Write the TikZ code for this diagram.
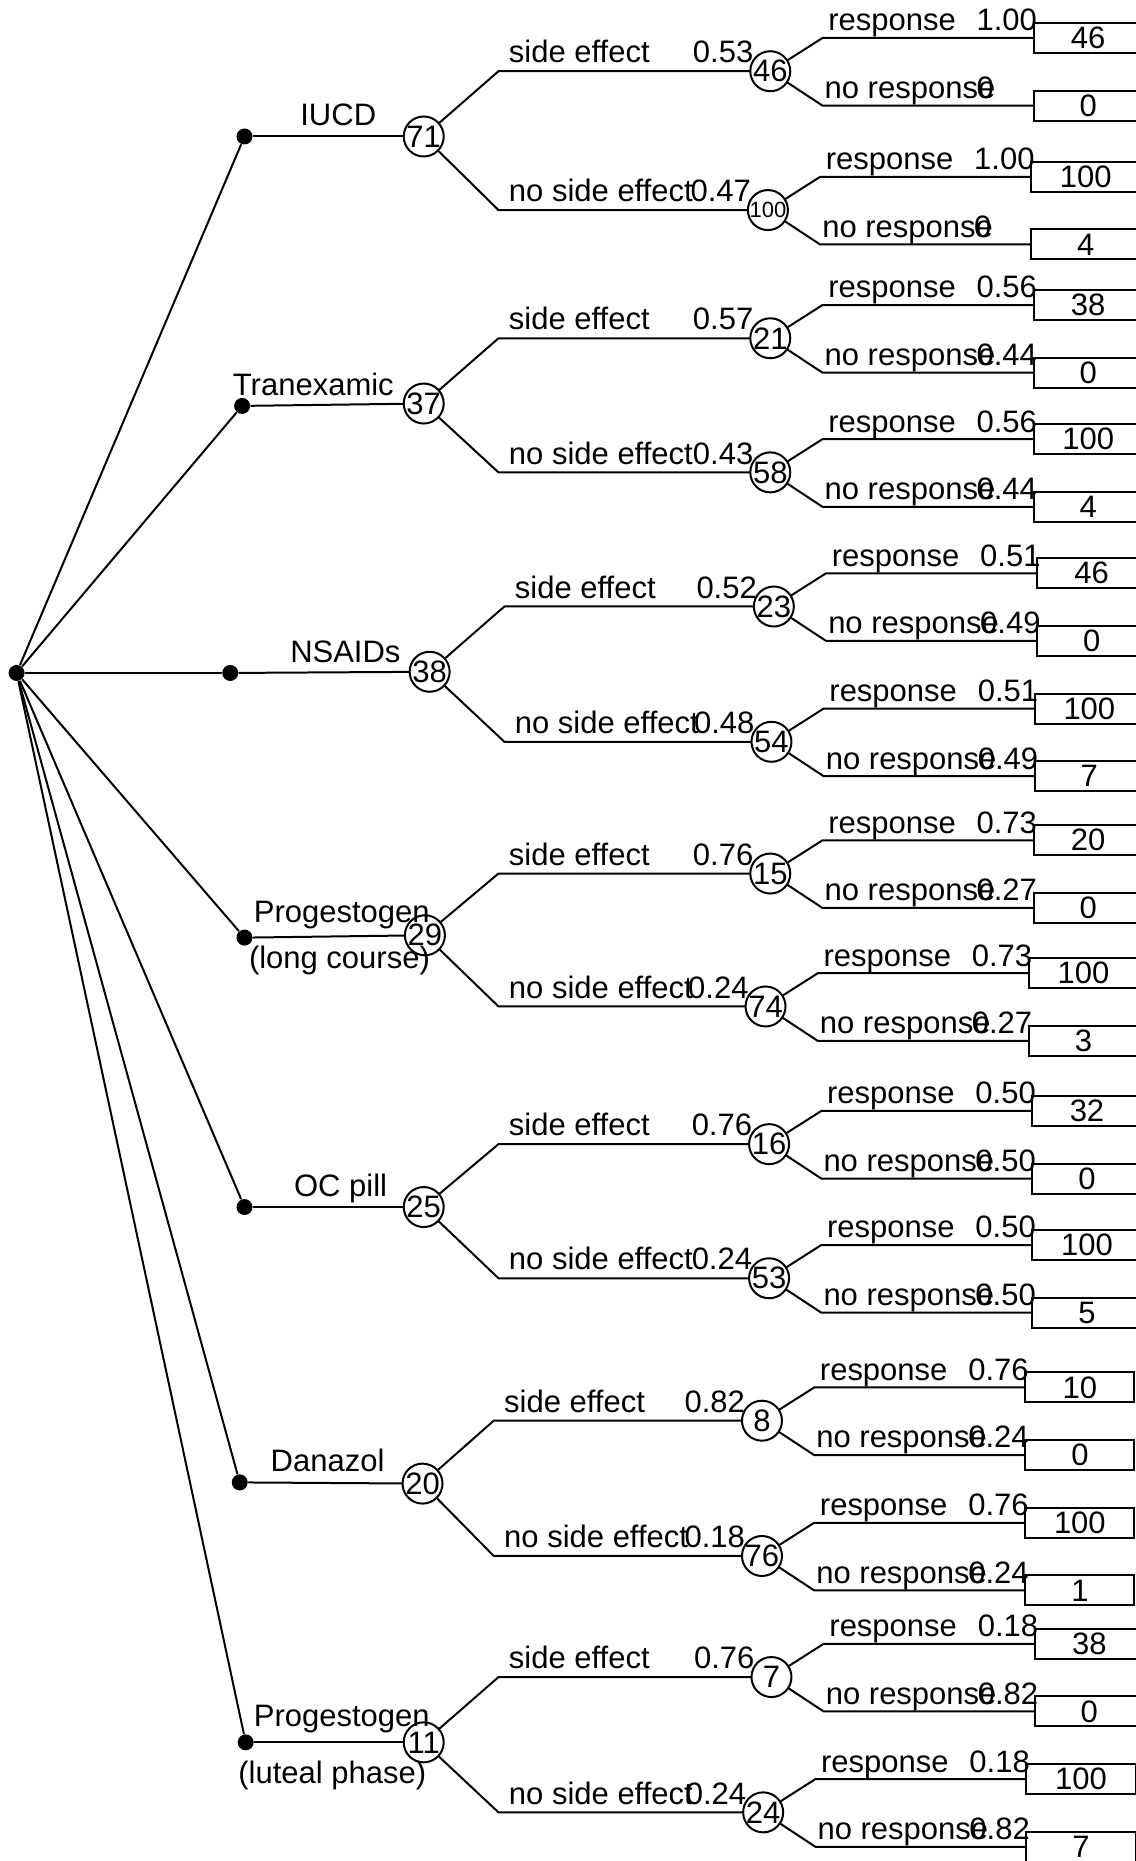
\documentclass[tikz,border=0pt]{standalone}
\usepackage{fontspec}
\setmainfont{Liberation Sans}
\usepackage{tikz}

% chance node with its two outcome branches
\newcommand{\leaves}[8]{%
  \node[chance] (#1) at (#2,#3) {#4};
  \node[outbox] (#1r) at (#2+221,#3-28) {#7};
  \node[outbox] (#1n) at (#2+221,#3+29) {#8};
  \coordinate (#1ru) at (#2+44,#3-28);
  \coordinate (#1nd) at (#2+44,#3+29);
  \draw (#1) -- (#1ru) -- (#1r.west);
  \draw (#1) -- (#1nd) -- (#1n.west);
  \node[lbl] at (#2+48,#3-34) {response};
  \node[lbl] at (#2+173,#3-34) {#5};
  \node[lbl] at (#2+45,#3+23) {no response};
  \node[lbl] at (#2+173,#3+23) {#6};
}
% side effect arm from a treatment node
\newcommand{\arm}[6]{%
  \coordinate (#2k) at (#3,#4);
  \draw (#1) -- (#2k) -- (#2);
  \node[lbl] at (#3+8,#4-7) {#5};
  \path (#2.center) ++(-66,-7) node[lbl] {#6};
}

\begin{document}
\begin{tikzpicture}[x=0.5935pt,y=-0.5935pt,line width=1pt,line cap=round,
  font=\fontsize{15.5}{18}\selectfont,
  chance/.style={circle,draw,minimum size=20pt,inner sep=-3pt},
  choice/.style={circle,fill,inner sep=0pt,minimum size=8pt},
  outbox/.style={rectangle,draw,anchor=west,minimum width=54.6pt,minimum height=15pt,inner sep=0pt},
  lbl/.style={anchor=base west,inner sep=0pt},
  tlbl/.style={anchor=base,inner sep=0pt}]
\useasboundingbox (0,0) rectangle (957,1568);
\clip (0,0) rectangle (957,1568);
\node[choice] (root) at (14,567) {};
% IUCD
\node[choice] (iucd) at (206,115) {};
\node[chance] (iucd0) at (357,115) {71};
\draw (iucd) -- (iucd0);
\node[tlbl] at (285,106) {IUCD};
\leaves{iucdS}{649}{60}{46}{1.00}{0}{46}{0}
\leaves{iucdN}{647}{177}{\fontsize{11}{12}\selectfont 100}{1.00}{0}{100}{4}
\arm{iucd0}{iucdS}{420}{60}{side effect}{0.53}
\arm{iucd0}{iucdN}{420}{177}{no side effect}{0.47}
% Tranexamic
\node[choice] (tran) at (204,342) {};
\node[chance] (tran0) at (357,340) {37};
\draw (tran) -- (tran0);
\node[tlbl] at (264,333) {Tranexamic};
\leaves{tranS}{649}{285}{21}{0.56}{0.44}{38}{0}
\leaves{tranN}{649}{398}{58}{0.56}{0.44}{100}{4}
\arm{tran0}{tranS}{420}{285}{side effect}{0.57}
\arm{tran0}{tranN}{420}{398}{no side effect}{0.43}
% NSAIDs
\node[choice] (nsaid) at (194,567) {};
\node[chance] (nsaid0) at (362,566) {38};
\draw (nsaid) -- (nsaid0);
\node[tlbl] at (291,558) {NSAIDs};
\leaves{nsaidS}{652}{511}{23}{0.51}{0.49}{46}{0}
\leaves{nsaidN}{650}{625}{54}{0.51}{0.49}{100}{7}
\arm{nsaid0}{nsaidS}{425}{511}{side effect}{0.52}
\arm{nsaid0}{nsaidN}{425}{625}{no side effect}{0.48}
% Progestogen (long course)
\node[choice] (plong) at (206,790) {};
\node[chance] (plong0) at (358,788) {29};
\draw (plong) -- (plong0);
\node[tlbl] at (288,777) {Progestogen};
\node[tlbl] at (286,816) {(long course)};
\leaves{plongS}{649}{736}{15}{0.73}{0.27}{20}{0}
\leaves{plongN}{645}{848}{74}{0.73}{0.27}{100}{3}
\arm{plong0}{plongS}{420}{736}{side effect}{0.76}
\arm{plong0}{plongN}{420}{848}{no side effect}{0.24}
% OC pill
\node[choice] (ocp) at (206,1017) {};
\node[chance] (ocp0) at (357,1017) {25};
\draw (ocp) -- (ocp0);
\node[tlbl] at (287,1008) {OC pill};
\leaves{ocpS}{648}{964}{16}{0.50}{0.50}{32}{0}
\leaves{ocpN}{648}{1077}{53}{0.50}{0.50}{100}{5}
\arm{ocp0}{ocpS}{420}{964}{side effect}{0.76}
\arm{ocp0}{ocpN}{420}{1077}{no side effect}{0.24}
% Danazol
\node[choice] (dan) at (202,1249) {};
\node[chance] (dan0) at (356,1250) {20};
\draw (dan) -- (dan0);
\node[tlbl] at (276,1240) {Danazol};
\leaves{danS}{642}{1197}{8}{0.76}{0.24}{10}{0}
\leaves{danN}{642}{1311}{76}{0.76}{0.24}{100}{1}
\arm{dan0}{danS}{416}{1197}{side effect}{0.82}
\arm{dan0}{danN}{416}{1311}{no side effect}{0.18}
% Progestogen (luteal phase)
\node[choice] (plut) at (207,1468) {};
\node[chance] (plut0) at (357,1468) {11};
\draw (plut) -- (plut0);
\node[tlbl] at (288,1455) {Progestogen};
\node[tlbl] at (280,1503) {(luteal phase)};
\leaves{plutS}{650}{1413}{7}{0.18}{0.82}{38}{0}
\leaves{plutN}{643}{1527}{24}{0.18}{0.82}{100}{7}
\arm{plut0}{plutS}{420}{1413}{side effect}{0.76}
\arm{plut0}{plutN}{420}{1527}{no side effect}{0.24}
% decision branches
\foreach \t in {iucd,tran,nsaid,plong,ocp,dan,plut}
  \draw (root) -- (\t);
\end{tikzpicture}
\end{document}
